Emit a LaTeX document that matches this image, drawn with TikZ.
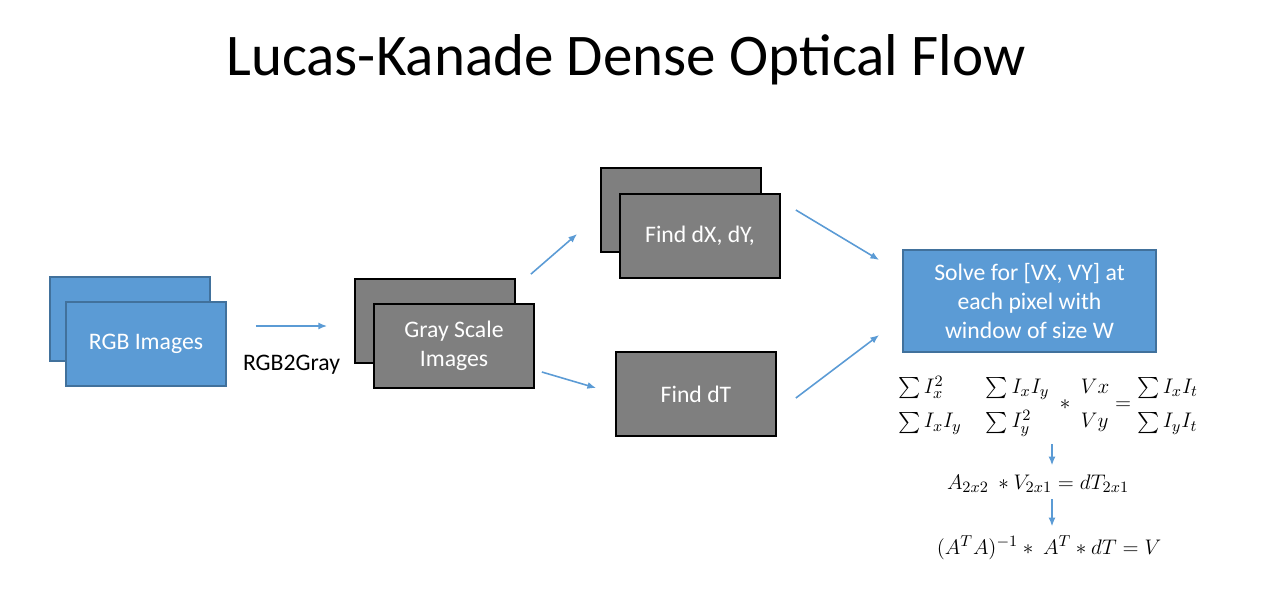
\documentclass[tikz,border=0pt]{standalone}
\usepackage{fontspec}
\setmainfont{Carlito}
\usepackage{amsmath}
\usetikzlibrary{arrows.meta, positioning}
\definecolor{boxblue}{HTML}{5B9BD5}
\definecolor{edgeblue}{HTML}{41719C}
\definecolor{boxgray}{HTML}{7F7F7F}

\begin{document}
\begin{tikzpicture}[x=0.02cm, y=-0.02cm, >={Latex[length=5pt,width=4pt]},
  bluebox/.style={draw=edgeblue, fill=boxblue, line width=1pt, minimum width=3.2cm,
    minimum height=1.68cm, text=white, align=center, font=\fontsize{13.5}{16.7}\selectfont},
  graybox/.style={bluebox, draw=black, fill=boxgray},
  flow/.style={->, draw=boxblue, line width=0.9pt},
  eqn/.style={font=\fontsize{12.5}{15}\selectfont}]
  \useasboundingbox (0,0) rectangle (1264,612);

  \node[font=\fontsize{33.6}{40}\selectfont] (title) at (626,60) {Lucas-Kanade Dense Optical Flow};

  % stacked image boxes
  \node[bluebox] (rgbback) at (130,319) {};
  \node[bluebox] (rgb) at (146,344) {RGB Images};
  \node[graybox] (grayback) at (435,321) {};
  \node[graybox] (gray) at (454,346) {Gray Scale\\Images};
  \node[graybox] (dxyback) at (681,210) {};
  \node[graybox] (dxy) at (700,236) {Find dX, dY,};
  \node[graybox] (dt) at (696,394) {Find dT};
  \node[bluebox, minimum width=5.06cm, minimum height=2.04cm] (solve) at (1029.5,301)
    {Solve for [VX, VY] at\\each pixel with\\window of size W};

  % equations
  \node[eqn] (eq1) at (1048,404)
    {\renewcommand{\arraystretch}{1.3}$\begin{array}{@{}l@{\hspace{1.1em}}l@{}}\sum I_x^2 & \sum I_xI_y\\ \sum I_xI_y & \sum I_y^2\end{array}
      \;*\; \begin{array}{@{}l@{}}Vx\\ Vy\end{array} =
      \begin{array}{@{}l@{}}\sum I_xI_t\\ \sum I_yI_t\end{array}$};
  \node[eqn] (eq2) at (1038,484)
    {$A_{2x2}\ * V_{2x1} = dT_{2x1}$};
  \node[eqn] (eq3) at (1049,548)
    {$(A^TA)^{-1} *\ A^T * dT = V$};

  \draw[flow] ([shift={(29,-18)}]rgb.east) -- node[below=13pt, font=\fontsize{13.5}{16}\selectfont] (conv) {RGB2Gray} ([shift={(-27,5)}]grayback.west);
  \draw[flow] ([shift={(-4,-29)}]gray.north east) -- ([shift={(-42,-2)}]dxy.west);
  \draw[flow] ([shift={(7,26)}]gray.east) -- ([shift={(-19,-6)}]dt.west);
  \draw[flow] ([shift={(15,-26)}]dxy.east) -- ([shift={(-23,-41)}]solve.west);
  \draw[flow] ([shift={(19,4)}]dt.east) -- ([shift={(-23,34)}]solve.west);
  \draw[flow] (eq1.south -| 1052,0) -- ([yshift=2pt]eq2.north -| 1052,0);
  \draw[flow] (eq2.south -| 1052,0) -- ([yshift=2pt]eq3.north -| 1052,0);
\end{tikzpicture}
\end{document}
